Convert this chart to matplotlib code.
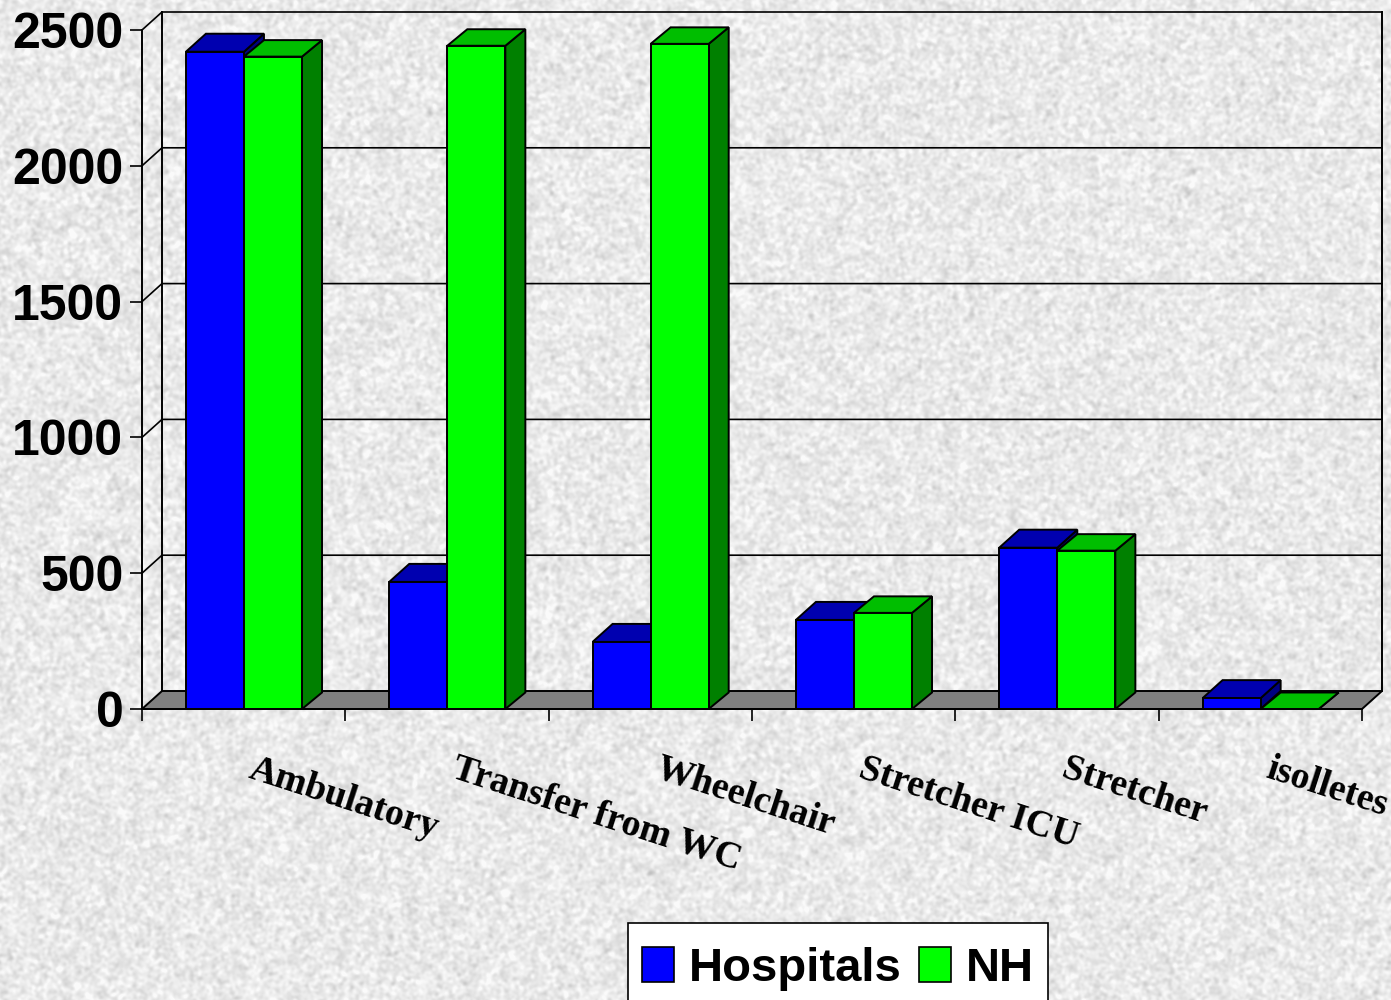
import numpy as np
import matplotlib
matplotlib.use('Agg')
import matplotlib.pyplot as plt
from matplotlib.patches import Polygon, Patch, Rectangle

categories = ['Ambulatory', 'Transfer from WC', 'Wheelchair', 'Stretcher ICU', 'Stretcher', 'isolletes']
hospitals = [2420, 468, 247, 328, 594, 40]
nh = [2402, 2442, 2449, 354, 583, 0]
y_ticks = [0, 500, 1000, 1500, 2000, 2500]

SANS = ['Liberation Sans']
SERIF = ['Liberation Serif']

# depth of the fake 3d box, in data units
DX = 20 / 203.33
DY = 18 / 0.2716
DY_NH = 16.5 / 0.2716
BAR_W = 0.2855
BAR_GAP = 0.216
LW = 1.4


def box(ax, x, w, h, dy, front, top, side):
    # side and top first, front face on top of them
    ax.add_patch(Polygon([(x + w, 0), (x + w + DX, dy), (x + w + DX, h + dy), (x + w, h)],
                         fc=side, ec='k', lw=LW, clip_on=False, zorder=3))
    ax.add_patch(Polygon([(x, h), (x + DX, h + dy), (x + w + DX, h + dy), (x + w, h)],
                         fc=top, ec='k', lw=LW, clip_on=False, zorder=3))
    if h > 0:
        ax.add_patch(Polygon([(x, 0), (x, h), (x + w, h), (x + w, 0)],
                             fc=front, ec='k', lw=LW, clip_on=False, zorder=3))


fig = plt.figure(figsize=(13.91, 10), dpi=100)

# mottled paper background
rng = np.random.default_rng(3)
noise = rng.normal(size=(1000, 1391))
fy = np.fft.fftfreq(1000)[:, None]
fx = np.fft.rfftfreq(1391)[None, :]
soft = np.fft.irfft2(np.fft.rfft2(noise) * np.exp(-(fx**2 + fy**2) * 2 * (np.pi * 1.6)**2), s=noise.shape)
soft = soft / soft.std()
paper = np.clip(233 + soft * 8, 190, 250) / 255
fig.figimage(paper, cmap='gray', vmin=0, vmax=1, zorder=-1)

ax = fig.add_axes([142 / 1391, 0.291, 1220 / 1391, 0.679])
ax.patch.set_alpha(0)
ax.set_xlim(0, 6)
ax.set_ylim(0, 2500)

# floor
ax.add_patch(Polygon([(0, 0), (DX, DY), (6 + DX, DY), (6, 0)], fc='#808080', ec='k', lw=LW,
                     clip_on=False, zorder=1))
# back wall and side wall lines
for v in y_ticks[1:]:
    ax.plot([0, DX, 6 + DX], [v, v + DY, v + DY], color='k', lw=LW - 0.2, clip_on=False, zorder=1)
ax.plot([DX, DX], [DY, 2500 + DY], color='k', lw=LW, clip_on=False, zorder=1)
ax.plot([6 + DX, 6 + DX], [DY, 2500 + DY], color='k', lw=LW, clip_on=False, zorder=1)

for i in range(len(categories)):
    x = i + BAR_GAP
    box(ax, x, BAR_W, hospitals[i], DY, '#0000FF', '#0000B0', '#000080')
    box(ax, x + BAR_W, BAR_W, nh[i], DY_NH, '#00FF00', '#00BE00', '#008000')

for s in ['top', 'right']:
    ax.spines[s].set_visible(False)
for s in ['left', 'bottom']:
    ax.spines[s].set_linewidth(LW)
    ax.spines[s].set_zorder(4)

ax.set_yticks(y_ticks)
ax.set_yticklabels([str(v) for v in y_ticks], family=SANS, fontweight='bold', fontsize=36)
ax.set_xticks(range(7))
ax.set_xticklabels([])
ax.tick_params(axis='both', length=8.5, width=LW - 0.2, color='k')
ax.tick_params(axis='y', pad=5)

for i, name in enumerate(categories):
    ax.text(i + 0.517, -250, name, rotation=-18, rotation_mode='anchor', ha='left', va='baseline',
            family=SERIF, fontweight='bold', fontsize=27.2, clip_on=False)

# legend box runs off the bottom of the picture, so the frame is drawn on its own
ax.add_patch(Rectangle((628 / 1391, -0.01), 420 / 1391, 0.087, transform=fig.transFigure, fc='w', ec='k',
                       lw=1.2, clip_on=False, zorder=5))
handles = [Patch(fc='#0000FF', ec='k', lw=1.2, label='Hospitals'),
           Patch(fc='#00FF00', ec='k', lw=1.2, label='NH')]
leg = ax.legend(handles=handles, ncol=2, loc='center', bbox_to_anchor=(838 / 1391, 31 / 1000),
                bbox_transform=fig.transFigure, frameon=False, handlelength=0.68, handleheight=0.74,
                handletextpad=0.31, columnspacing=0.38, borderaxespad=0, borderpad=0.29,
                prop={'family': SANS, 'weight': 'bold', 'size': 34})

fig.savefig('out.png', dpi=100)
